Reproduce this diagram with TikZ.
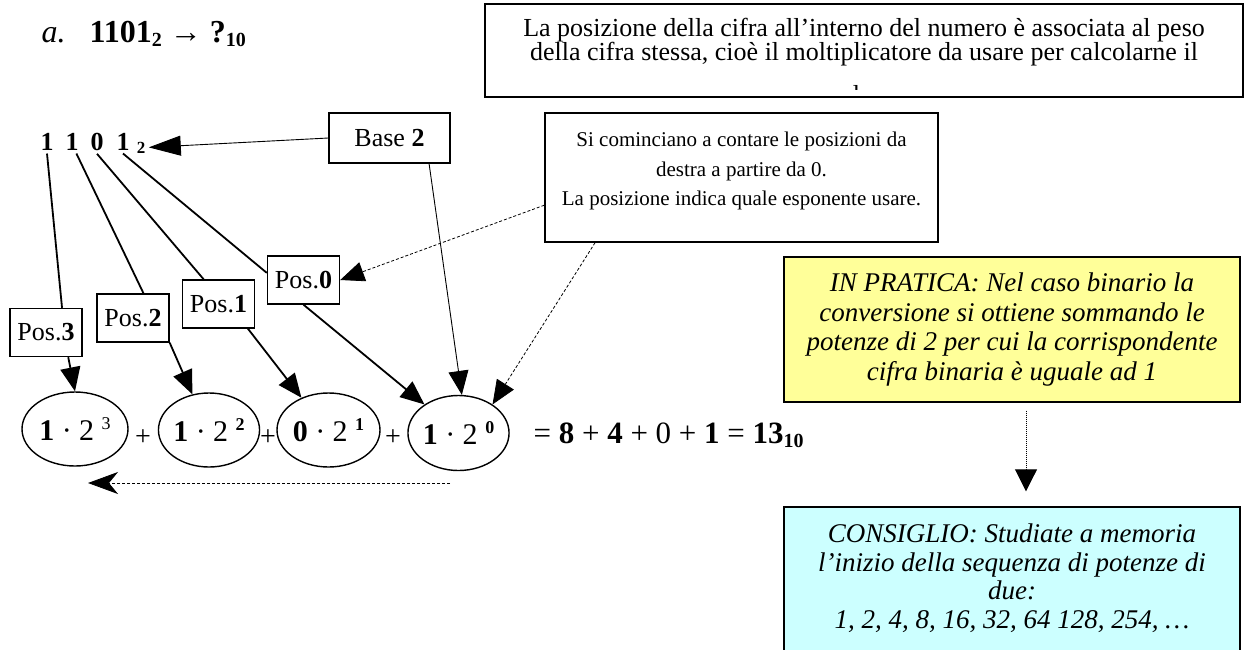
\documentclass[tikz,border=0pt]{standalone}
\usepackage{fontspec}
\setmainfont{Liberation Serif}
\usetikzlibrary{arrows.meta,positioning,shapes.geometric,calc}

\definecolor{praticafill}{HTML}{FFFF99}
\definecolor{consigliofill}{HTML}{CCFFFF}

\newcommand\pw[1]{\raisebox{11pt}{\fontsize{18}{20}\selectfont #1}}
\newcommand\sub[1]{\raisebox{-4pt}{\fontsize{20}{22}\selectfont #1}}

\tikzset{
  box/.style={draw, line width=1.4pt, fill=white, inner sep=0pt},
  posbox/.style={box, minimum width=72pt, minimum height=48pt, font=\fontsize{26}{30}\selectfont},
  term/.style={draw, ellipse, line width=1.4pt, inner sep=0pt, font=\fontsize{30}{34}\selectfont},
  link/.style={line width=1.8pt, -{Triangle[length=24pt,width=20pt]}},
  thinlink/.style={line width=0.9pt, -{Triangle[length=24pt,width=20pt]}},
  dashlink/.style={line width=0.8pt, dash pattern=on 3pt off 2pt, -{Triangle[length=24pt,width=20pt]}}
}

\begin{document}
\begin{tikzpicture}[x=1pt, y=-1pt]
\useasboundingbox (0,0) rectangle (1245,649);

% title
\node[anchor=base west, font=\fontsize{32}{36}\selectfont] (title) at (38,42)
  {\textit{a.}\hspace{24pt}\textbf{1101\sub{2}} → \textbf{?\sub{10}}};

% note on top (text cut by its frame)
\node[font=\fontsize{26}{24}\selectfont, align=center] (notetxt) at (864,42)
  {La posizione della cifra all’interno del numero è associata al peso\\
   della cifra stessa, cioè il moltiplicatore da usare per calcolarne il};
\begin{scope}
\clip (485,4) rectangle (1243,89);
\node[anchor=base, font=\fontsize{26}{24}\selectfont] (notecut) at (864,103) {valore.};
\end{scope}
\node[draw, line width=1.4pt, inner sep=0pt, minimum width=758pt, minimum height=93pt] (note) at (864,50.5) {};

% binary number
\node[anchor=base, font=\bfseries\fontsize{26}{30}\selectfont] (d3) at (47,150) {1};
\node[anchor=base, font=\bfseries\fontsize{26}{30}\selectfont] (d2) at (72,150) {1};
\node[anchor=base, font=\bfseries\fontsize{26}{30}\selectfont] (d1) at (97,150) {0};
\node[anchor=base, font=\bfseries\fontsize{26}{30}\selectfont] (d0) at (123,150) {1};
\node[anchor=base, font=\bfseries\fontsize{17}{20}\selectfont] (radix) at (141,153) {2};

% base and position notes
\node[box, minimum width=121pt, minimum height=50pt, font=\fontsize{26}{30}\selectfont] (base) at (389.5,138) {Base \textbf{2}};
\node[box, minimum width=393pt, minimum height=129pt] (si) at (741.5,177.5) {};
\node[font=\fontsize{21}{29.5}\selectfont, align=center] (sitxt) at (741.5,171)
  {Si cominciano a contare le posizioni da\\destra a partire da 0.\\La posizione indica quale esponente usare.};

\node[posbox] (p3) at (46,332.5) {Pos.\textbf{3}};
\node[posbox] (p2) at (133,318) {Pos.\textbf{2}};
\node[posbox] (p1) at (218.5,304) {Pos.\textbf{1}};
\node[posbox] (p0) at (303.5,280) {Pos.\textbf{0}};

% terms of the sum
\node[term, minimum width=106pt, minimum height=74pt] (e1) at (75,429) {\textbf{1} · 2 \pw{3}};
\node[term, minimum width=98pt, minimum height=74pt] (e2) at (209,430) {\textbf{1} · 2 \pw{\textbf{2}}};
\node[term, minimum width=103pt, minimum height=74pt] (e3) at (328.5,430) {\textbf{0} · 2 \pw{\textbf{1}}};
\node[term, minimum width=97pt, minimum height=75pt] (e4) at (458.5,433) {\textbf{1} · 2 \pw{\textbf{0}}};
\node[anchor=base, font=\fontsize{28}{30}\selectfont] (plus1) at (143,445) {+};
\node[anchor=base, font=\fontsize{28}{30}\selectfont] (plus2) at (268,445) {+};
\node[anchor=base, font=\fontsize{28}{30}\selectfont] (plus3) at (393,445) {+};
\node[anchor=base west, font=\fontsize{31}{34}\selectfont] (result) at (530,443)
  {= \textbf{8} + \textbf{4} + 0 + \textbf{1} = \textbf{13\sub{10}}};

% coloured notes
\node[box, fill=praticafill, minimum width=456pt, minimum height=145pt, align=center,
  font=\itshape\fontsize{27}{29.7}\selectfont] (pratica) at (1012,329.5)
  {IN PRATICA: Nel caso binario la\\conversione si ottiene sommando le\\potenze di 2 per cui la corrispondente\\cifra binaria è uguale ad 1};
\node[box, fill=consigliofill, minimum width=456pt, minimum height=160pt] (consiglio) at (1012,587) {};
\node[font=\itshape\fontsize{27}{28.5}\selectfont, align=center] (consigliotxt) at (1012,578)
  {CONSIGLIO: Studiate a memoria\\l’inizio della sequenza di potenze di\\due:\\1, 2, 4, 8, 16, 32, 64 128, 254, …};

% connectors
\draw[thinlink, -{Triangle[length=32pt,width=20pt]}] (base.west) -- (radix.east);
\draw[line width=1.8pt] (d3.south) -- (p3.57);
\draw[line width=1.8pt] (d2.-70) -- (p2.67);
\draw[line width=1.8pt] (d1.south) -- (p1.121);
\draw[line width=1.8pt] (d0.south) -- (p0.169);
\draw[link] (p3.-48) -- (e1.north);
\draw[link] (p2.south east) -- (e2.115);
\draw[link] (p1.-40) -- (e3.130);
\draw[link] (p0.south) -- (e4.140);
\draw[thinlink] (base.-33) -- (e4.85);
\draw[dashlink] (si.-156.5) -- (e4.40);
\draw[dashlink] (si.188.5) -- (p0.east);

% reading direction
\coordinate (flowR) at (450,483);
\coordinate (flowL) at (88,483);
\draw[line width=0.8pt, dash pattern=on 3pt off 2pt, -{Stealth[length=30pt,width=22pt,inset=9pt]}] (flowR) -- (flowL);

% from practice to advice
\draw[line width=0.9pt, dash pattern=on 1pt off 1pt, -{Triangle[length=22pt,width=22pt]}, shorten <=8pt, shorten >=15pt]
  ([xshift=14pt]pratica.south) -- ([xshift=14pt]consiglio.north);
\end{tikzpicture}
\end{document}
